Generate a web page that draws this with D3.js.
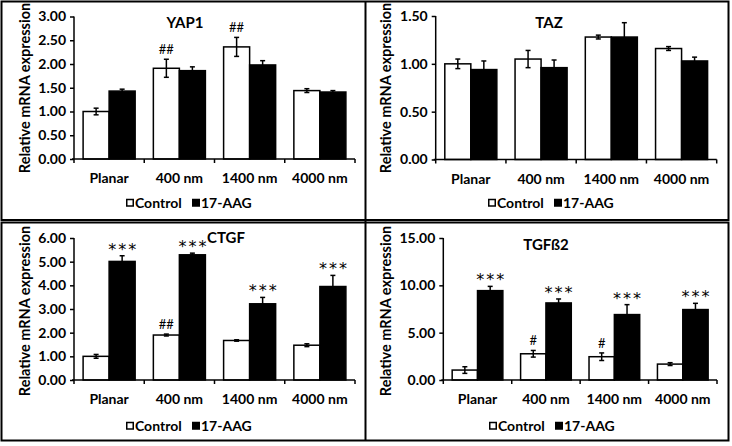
<!DOCTYPE html>
<html><head><meta charset="utf-8">
<script src="https://cdn.jsdelivr.net/npm/d3@7"></script>
<style>
html,body{margin:0;padding:0;background:#fff;}
svg text{font-family:Lato,"Open Sans",sans-serif;}
</style></head>
<body>
<svg id="c" width="732" height="446"></svg>
<script>
const categories = ["Planar", "400 nm", "1400 nm", "4000 nm"];
const seriesNames = ["Control", "17-AAG"];

const yap1Control = [1.00, 1.91, 2.36, 1.44];
const yap1ControlErr = [0.07, 0.19, 0.20, 0.04];
const yap1AAG = [1.43, 1.86, 1.98, 1.41];
const yap1AAGErr = [0.04, 0.08, 0.09, 0.03];
const yap1ControlMarks = ["", "##", "##", ""];
const yap1AAGMarks = ["", "", "", ""];
const yap1Ticks = [0, 0.5, 1.0, 1.5, 2.0, 2.5, 3.0];

const tazControl = [1.00, 1.05, 1.28, 1.16];
const tazControlErr = [0.05, 0.09, 0.02, 0.02];
const tazAAG = [0.94, 0.96, 1.28, 1.03];
const tazAAGErr = [0.09, 0.08, 0.15, 0.04];
const tazControlMarks = ["", "", "", ""];
const tazAAGMarks = ["", "", "", ""];
const tazTicks = [0, 0.5, 1.0, 1.5];

const ctgfControl = [1.00, 1.90, 1.67, 1.47];
const ctgfControlErr = [0.08, 0.04, 0.03, 0.06];
const ctgfAAG = [5.01, 5.29, 3.22, 3.95];
const ctgfAAGErr = [0.24, 0.07, 0.27, 0.47];
const ctgfControlMarks = ["", "##", "", ""];
const ctgfAAGMarks = ["***", "***", "***", "***"];
const ctgfTicks = [0, 1, 2, 3, 4, 5, 6];

const tgfControl = [1.05, 2.77, 2.46, 1.68];
const tgfControlErr = [0.35, 0.35, 0.40, 0.15];
const tgfAAG = [9.44, 8.14, 6.91, 7.44];
const tgfAAGErr = [0.45, 0.42, 1.05, 0.66];
const tgfControlMarks = ["", "#", "#", ""];
const tgfAAGMarks = ["***", "***", "***", "***"];
const tgfTicks = [0, 5, 10, 15];

const yTitle = "Relative mRNA expression";

const panels = [
  {title:"YAP1", ox:0, oy:0, x0:74, x1:355, y0:159, y1:16.5, tx:185, ty:23,
   ctrl:yap1Control, ctrlErr:yap1ControlErr, aag:yap1AAG, aagErr:yap1AAGErr,
   ctrlMarks:yap1ControlMarks, aagMarks:yap1AAGMarks, ticks:yap1Ticks, ytx:25, legX:126},
  {title:"TAZ", ox:366, oy:0, x0:69.7, x1:350.7, y0:159.5, y1:16, tx:183, ty:23,
   ctrl:tazControl, ctrlErr:tazControlErr, aag:tazAAG, aagErr:tazAAGErr,
   ctrlMarks:tazControlMarks, aagMarks:tazAAGMarks, ticks:tazTicks, ytx:20, legX:122},
  {title:"CTGF", ox:0, oy:223, x0:74, x1:355, y0:157, y1:15, tx:226, ty:15,
   ctrl:ctgfControl, ctrlErr:ctgfControlErr, aag:ctgfAAG, aagErr:ctgfAAGErr,
   ctrlMarks:ctgfControlMarks, aagMarks:ctgfAAGMarks, ticks:ctgfTicks, ytx:25, legX:126},
  {title:"TGF\u00DF2", ox:366, oy:223, x0:77.3, x1:351, y0:157, y1:15, tx:180, ty:22,
   ctrl:tgfControl, ctrlErr:tgfControlErr, aag:tgfAAG, aagErr:tgfAAGErr,
   ctrlMarks:tgfControlMarks, aagMarks:tgfAAGMarks, ticks:tgfTicks, ytx:20, legX:123}
];

const svg = d3.select("#c");
svg.append("rect").attr("width",732).attr("height",446).attr("fill","#fff");

// frames
svg.append("rect").attr("x",1.5).attr("y",1.5).attr("width",727).attr("height",218.5)
  .attr("fill","none").attr("stroke","#000").attr("stroke-width",2);
svg.append("rect").attr("x",1.5).attr("y",222.5).attr("width",727).attr("height",218)
  .attr("fill","none").attr("stroke","#000").attr("stroke-width",2);
svg.append("line").attr("x1",365.5).attr("x2",365.5).attr("y1",1).attr("y2",441)
  .attr("stroke","#000").attr("stroke-width",2);

panels.forEach(p => {
  const g = svg.append("g").attr("transform",`translate(${p.ox},${p.oy})`);
  const x = d3.scaleBand().domain(categories).range([p.x0, p.x1]).paddingInner(0).paddingOuter(0);
  const xs = d3.scaleBand().domain(seriesNames).range([0, x.bandwidth()]).paddingInner(0).paddingOuter(0.35);
  const maxT = p.ticks[p.ticks.length-1];
  const y = d3.scaleLinear().domain([0, maxT]).range([p.y0, p.y1]);

  // y axis
  const ya = d3.axisLeft(y).tickValues(p.ticks).tickFormat(d3.format(".2f")).tickSize(4).tickPadding(4);
  const yg = g.append("g").attr("transform",`translate(${p.x0},0)`).call(ya);
  yg.select(".domain").attr("d", `M0,${y(0)}V${y(maxT)}`).attr("stroke-width",1.5);
  yg.selectAll(".tick line").attr("stroke-width",1.5);
  yg.selectAll("text").attr("font-size",14).attr("font-weight","bold").attr("fill","#000");

  // bars
  const rows = categories.map((c,i)=>[
    {c, s:seriesNames[0], v:p.ctrl[i], e:p.ctrlErr[i], m:p.ctrlMarks[i]},
    {c, s:seriesNames[1], v:p.aag[i], e:p.aagErr[i], m:p.aagMarks[i]}
  ]).flat();

  g.selectAll("rect.bar").data(rows).join("rect").attr("class","bar")
    .attr("x", d => x(d.c) + xs(d.s))
    .attr("y", d => y(d.v))
    .attr("width", xs.bandwidth())
    .attr("height", d => y(0) - y(d.v))
    .attr("fill", d => d.s === seriesNames[0] ? "#fff" : "#000")
    .attr("stroke","#000").attr("stroke-width",1.5);

  // error bars
  const eg = g.selectAll("g.err").data(rows).join("g").attr("class","err")
    .attr("transform", d => `translate(${x(d.c) + xs(d.s) + xs.bandwidth()/2},0)`);
  eg.append("line").attr("x1",0).attr("x2",0)
    .attr("y1", d => y(d.v - d.e)).attr("y2", d => y(d.v + d.e))
    .attr("stroke","#000").attr("stroke-width",1.5);
  eg.append("line").attr("x1",-2.5).attr("x2",2.5)
    .attr("y1", d => y(d.v + d.e)).attr("y2", d => y(d.v + d.e))
    .attr("stroke","#000").attr("stroke-width",1.5);
  eg.append("line").attr("x1",-2.5).attr("x2",2.5)
    .attr("y1", d => y(d.v - d.e)).attr("y2", d => y(d.v - d.e))
    .attr("stroke","#000").attr("stroke-width",1.5);

  // significance marks
  eg.filter(d => d.m && d.m.startsWith("#")).append("text")
    .attr("text-anchor","middle").attr("y", d => y(d.v + d.e) - 5)
    .attr("font-size",13).attr("fill","#000").text(d => d.m);
  eg.filter(d => d.m && d.m.startsWith("*")).append("text")
    .attr("text-anchor","middle").attr("y", d => y(d.v + d.e) - 1)
    .style("font-family","'DejaVu Sans',sans-serif")
    .attr("font-size",16).attr("letter-spacing","2px").attr("dx","1px").attr("fill","#000").text(d => d.m);

  // x axis
  const xa = d3.axisBottom(x).tickSize(0).tickPadding(0).tickFormat("");
  const xg = g.append("g").attr("transform",`translate(0,${p.y0})`).call(xa);
  xg.select(".domain").attr("d", `M${p.x0-2},0H${p.x1}`).attr("stroke-width",1.5);
  const bounds = [p.x0].concat(categories.map(c => x(c) + x.bandwidth()));
  xg.selectAll("line.bt").data(bounds).join("line").attr("class","bt")
    .attr("x1", d=>d).attr("x2", d=>d).attr("y1",0).attr("y2",4)
    .attr("stroke","#000").attr("stroke-width",1.5);
  xg.selectAll("text.cl").data(categories).join("text").attr("class","cl")
    .attr("x", d => x(d) + x.bandwidth()/2).attr("y", 24)
    .attr("text-anchor","middle").attr("font-size",14).attr("font-weight","bold")
    .attr("fill","#000").text(d => d);

  // title
  g.append("text").attr("x",p.tx).attr("y",p.ty).attr("dy","0.35em").attr("text-anchor","middle")
    .attr("font-size",15).attr("font-weight","bold").text(p.title);

  // y title
  g.append("text").attr("transform",`translate(${p.ytx},${88}) rotate(-90)`)
    .attr("text-anchor","middle").attr("dy","0.35em")
    .attr("font-size",14.5).attr("font-weight","bold").text(yTitle);

  // legend
  const lg = g.append("g").attr("transform",`translate(${p.legX},${203})`);
  const li = lg.selectAll("g").data(seriesNames).join("g")
    .attr("transform",(d,i)=>`translate(${i*66},0)`);
  li.append("rect").attr("x",0.75).attr("y",-3.5).attr("width",6.5).attr("height",6.5)
    .attr("fill",(d,i)=> i===0 ? "#fff" : "#000").attr("stroke","#000").attr("stroke-width",1.5);
  li.append("text").attr("x",9).attr("y",0).attr("dy","0.35em")
    .attr("font-size",14).attr("font-weight","bold").text(d=>d);
});
</script>
</body></html>
